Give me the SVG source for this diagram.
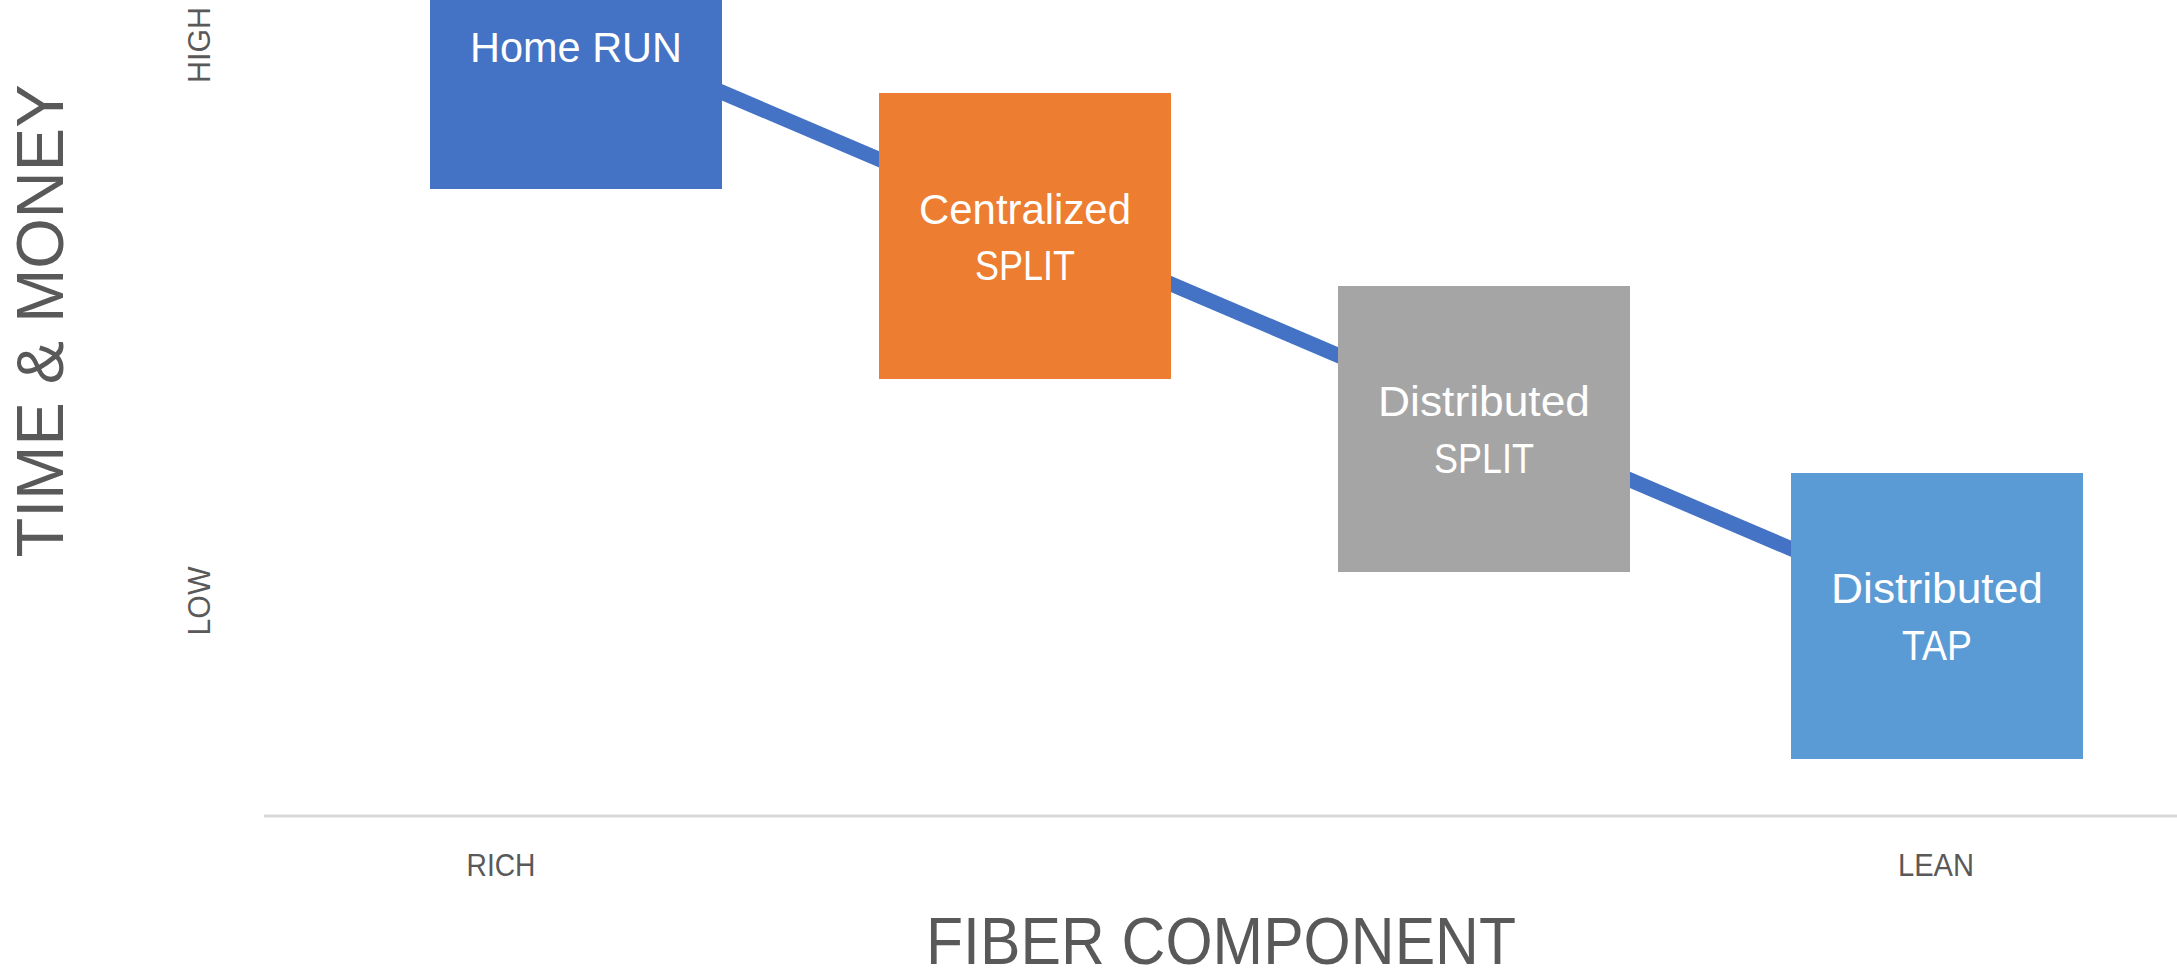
<svg xmlns="http://www.w3.org/2000/svg" width="2177" height="973" viewBox="0 0 2177 973">
  <style>
    .box-text { font-family: "Liberation Sans", Arial, sans-serif; font-size: 42px; fill: #FFFFFF; text-anchor: middle; }
    .axis-title { font-family: "Liberation Sans", Arial, sans-serif; fill: #595959; text-anchor: middle; }
    .tick { font-family: "Liberation Sans", Arial, sans-serif; font-size: 31px; fill: #595959; text-anchor: middle; }
    .connector { stroke: #4472C4; stroke-width: 15; fill: none; }
    .axis { stroke: #D9D9D9; stroke-width: 3; }
  </style>
  <rect x="0" y="0" width="2177" height="973" fill="#FFFFFF"/>

  <g id="axes">
    <line class="axis" x1="264" y1="816" x2="2177" y2="816"/>
    <text class="axis-title" font-size="66" x="1221" y="964" textLength="590" lengthAdjust="spacingAndGlyphs">FIBER COMPONENT</text>
    <text class="axis-title" font-size="67" transform="translate(63,321) rotate(-90)" x="0" y="0" textLength="473" lengthAdjust="spacingAndGlyphs">TIME &amp; MONEY</text>
    <text class="tick" font-size="32" transform="translate(210,45) rotate(-90)" x="0" y="0" textLength="76" lengthAdjust="spacingAndGlyphs">HIGH</text>
    <text class="tick" font-size="32" transform="translate(210,601) rotate(-90)" x="0" y="0" textLength="69" lengthAdjust="spacingAndGlyphs">LOW</text>
    <text class="tick" x="501" y="876" textLength="69" lengthAdjust="spacingAndGlyphs">RICH</text>
    <text class="tick" x="1936" y="876" textLength="76" lengthAdjust="spacingAndGlyphs">LEAN</text>
  </g>

  <g id="connectors">
    <line class="connector" x1="576" y1="30" x2="1937" y2="611"/>
  </g>

  <g id="node-home-run">
    <rect x="430" y="-97" width="292" height="286" fill="#4472C4"/>
    <text class="box-text" x="576" y="62" textLength="212" lengthAdjust="spacingAndGlyphs">Home RUN</text>
  </g>

  <g id="node-centralized-split">
    <rect x="879" y="93" width="292" height="286" fill="#ED7D31"/>
    <text class="box-text" x="1025" y="224" textLength="212" lengthAdjust="spacingAndGlyphs">Centralized</text>
    <text class="box-text" x="1025" y="280" textLength="100" lengthAdjust="spacingAndGlyphs">SPLIT</text>
  </g>

  <g id="node-distributed-split">
    <rect x="1338" y="286" width="292" height="286" fill="#A5A5A5"/>
    <text class="box-text" x="1484" y="416" textLength="212" lengthAdjust="spacingAndGlyphs">Distributed</text>
    <text class="box-text" x="1484" y="473" textLength="100" lengthAdjust="spacingAndGlyphs">SPLIT</text>
  </g>

  <g id="node-distributed-tap">
    <rect x="1791" y="473" width="292" height="286" fill="#5B9BD5"/>
    <text class="box-text" x="1937" y="603" textLength="212" lengthAdjust="spacingAndGlyphs">Distributed</text>
    <text class="box-text" x="1937" y="660" textLength="70" lengthAdjust="spacingAndGlyphs">TAP</text>
  </g>
</svg>
